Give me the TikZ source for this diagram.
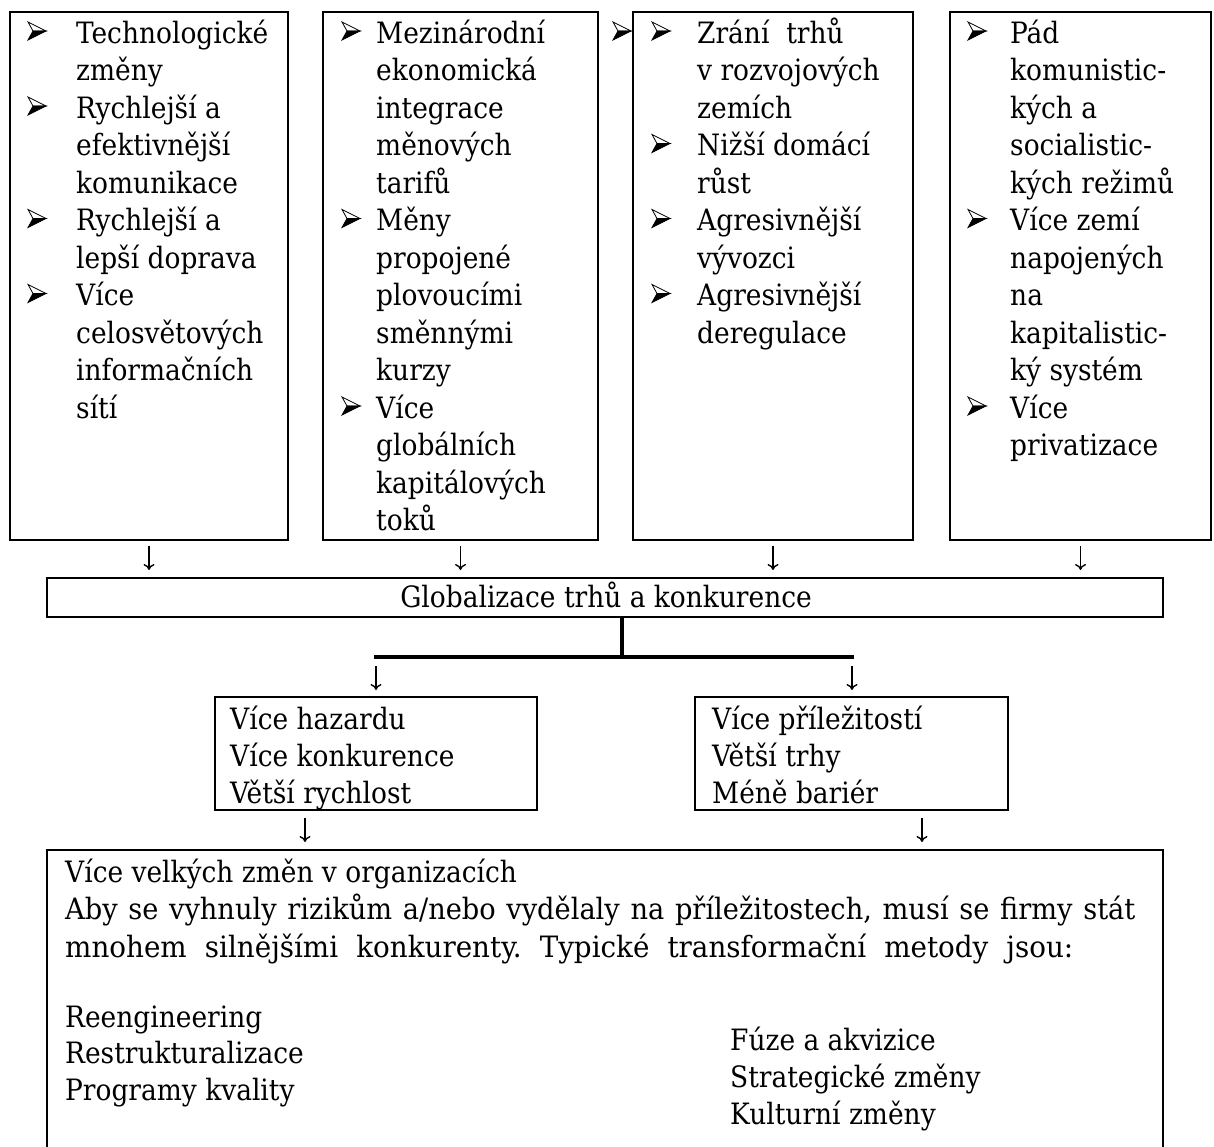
\documentclass[tikz,border=0pt]{standalone}
\usepackage{fontspec}
\usepackage{graphicx}
\setmainfont{DejaVu Serif Condensed}
\usetikzlibrary{arrows.meta,calc}
\frenchspacing
\newcommand\txtf{\fontsize{29.4}{36}\selectfont}
\begin{document}
\begin{tikzpicture}[x=1pt,y=-1pt,
  box/.style={draw, line width=2.2pt, inner sep=0pt, outer sep=0pt},
  txt/.style={anchor=base west, inner sep=0pt, font=\txtf},
  arr/.style={line width=1.4pt, -{To[length=6pt,width=11pt]}},
  bar/.style={line width=3.6pt},
  bul/.pic={
    \filldraw[fill=white, draw=black, line width=0.8pt] (0,-21)--(18,-12)--(5,-12)--cycle;
    \filldraw[fill=black, draw=black, line width=0.8pt] (5,-12)--(18,-12)--(0,-3)--cycle;
  }]
\useasboundingbox (0,0) rectangle (1214,1146);

% top boxes
\node[box, minimum width=278pt, minimum height=528pt] (b1) at (149,276) {};
\node[box, minimum width=275pt, minimum height=528pt] (b2) at (460.5,276) {};
\node[box, minimum width=280pt, minimum height=528pt] (b3) at (773,276) {};
\node[box, minimum width=261pt, minimum height=528pt] (b4) at (1080.5,276) {};

\foreach \t [count=\i] in {Technologické,změny,Rychlejší a,efektivnější,komunikace,Rychlejší a,lepší doprava,Více,celosvětových,informačních,sítí}
  \node[txt] (ta\i) at (76,{43+37.5*(\i-1)}) {\t};
\foreach \i in {1,3,6,8} \pic at (28,{43+37.5*(\i-1)}) {bul};

\foreach \t [count=\i] in {Mezinárodní,ekonomická,integrace,měnových,tarifů,Měny,propojené,plovoucími,směnnými,kurzy,Více,globálních,kapitálových,toků}
  \node[txt] (tb\i) at (376,{43+37.5*(\i-1)}) {\t};
\foreach \i in {1,6,11} \pic at (342,{43+37.5*(\i-1)}) {bul};

\pic at (613,43) {bul};
\foreach \t [count=\i] in {Zrání\ \ trhů,v rozvojových,zemích,Nižší domácí,růst,Agresivnější,vývozci,Agresivnější,deregulace}
  \node[txt] (tc\i) at (697,{43+37.5*(\i-1)}) {\t};
\foreach \i in {1,4,6,8} \pic at (652,{43+37.5*(\i-1)}) {bul};

\foreach \t [count=\i] in {Pád,komunistic-,kých a,socialistic-,kých režimů,Více zemí,napojených,na,kapitalistic-,ký systém,Více,privatizace}
  \node[txt] (td\i) at (1010,{43+37.5*(\i-1)}) {\t};
\foreach \i in {1,6,11} \pic at (968,{43+37.5*(\i-1)}) {bul};

% globalization box
\node[box, minimum width=1116pt, minimum height=39pt] (glob) at (605,597.5) {};
\node[txt, anchor=base] (globt) at (606,607) {Globalizace trhů a konkurence};

\foreach \b in {b1,b2,b3,b4}
  \draw[arr, shorten <=6pt, shorten >=8pt] (\b.south) -- (\b.south |- glob.north);

% branching
\coordinate (hm) at (622,657);
\coordinate (hl) at (376,657);
\coordinate (hr) at (852,657);
\draw[bar] (glob.south -| hm) -- (hm);
\draw[bar] ([xshift=-1.8pt]hl) -- ([xshift=1.8pt]hr);

% middle boxes
\node[box, minimum width=322pt, minimum height=113pt] (ml) at (376,753.5) {};
\node[box, minimum width=313pt, minimum height=113pt] (mr) at (851.5,753.5) {};
\draw[arr, shorten <=9pt, shorten >=7pt] (hl) -- (hl |- ml.north);
\draw[arr, shorten <=9pt, shorten >=7pt] (hr) -- (hr |- mr.north);

\foreach \t [count=\i] in {Více hazardu,Více konkurence,Větší rychlost}
  \node[txt] (tl\i) at (230,{729+37*(\i-1)}) {\t};
\foreach \t [count=\i] in {Více příležitostí,Větší trhy,Méně bariér}
  \node[txt] (tr\i) at (712,{729+37*(\i-1)}) {\t};

% bottom box
\node[box, minimum width=1116pt, minimum height=330pt] (bot) at (605,1015) {};
\coordinate (xl) at (305,0);
\coordinate (xr) at (922,0);
\draw[arr, shorten <=8pt, shorten >=8pt] (ml.south -| xl) -- (bot.north -| xl);
\draw[arr, shorten <=8pt, shorten >=8pt] (mr.south -| xr) -- (bot.north -| xr);

\node[txt] (p1) at (65,882) {Více velkých změn v organizacích};
\node[txt] (p2) at (65,919) {\scalebox{1.03}[1]{\makebox[1039pt][s]{Aby se vyhnuly rizikům a/nebo vydělaly na příležitostech, musí se firmy stát}}};
\node[txt] (p3) at (65,957) {\scalebox{1.05}[1]{\makebox[960pt][s]{mnohem silnějšími konkurenty. Typické transformační metody jsou:}}};
\foreach \t [count=\i] in {Reengineering,Restrukturalizace,Programy kvality}
  \node[txt] (ml\i) at (65,{1027+36.5*(\i-1)}) {\t};
\foreach \t [count=\i] in {Fúze a akvizice,Strategické změny,Kulturní změny}
  \node[txt] (mr\i) at (730,{1050+37*(\i-1)}) {\t};
\end{tikzpicture}
\end{document}
